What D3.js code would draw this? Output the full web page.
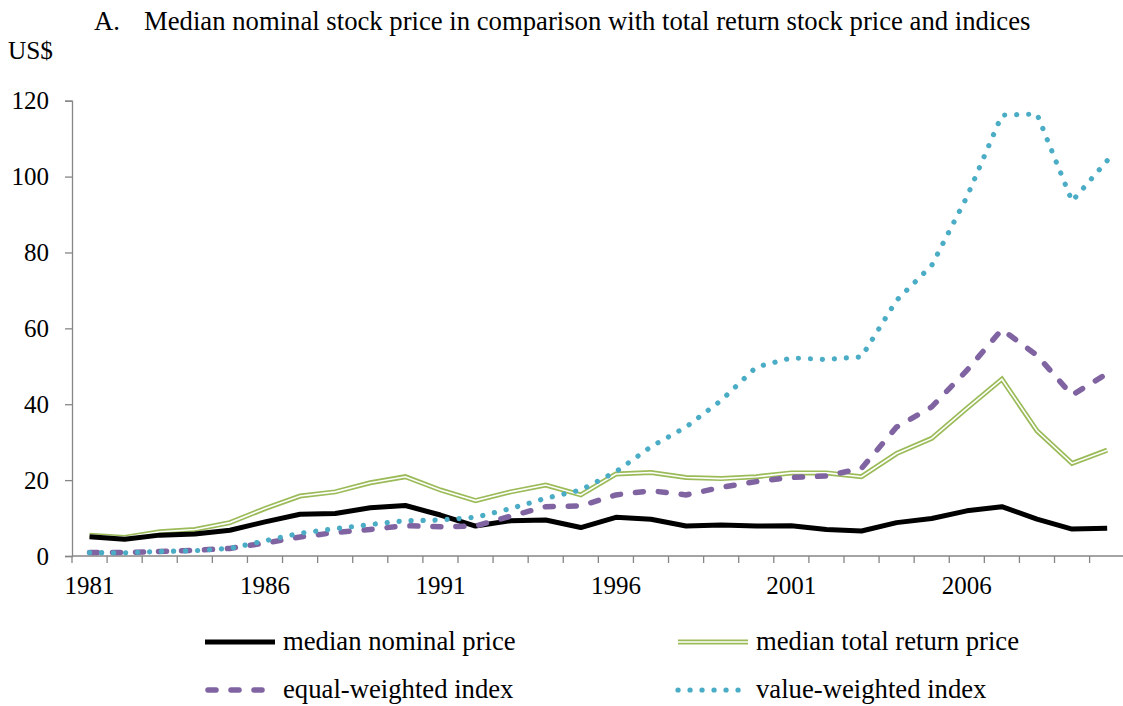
<!DOCTYPE html>
<html>
<head>
<meta charset="utf-8">
<script src="https://cdn.jsdelivr.net/npm/d3@7"></script>
<style>
  body { margin: 0; background: #fff; }
  svg text { font-family: 'Liberation Serif', 'Times New Roman', Times, serif; fill: #000; }
</style>
</head>
<body>
<div id="chart"></div>
<script>
// data
const years = d3.range(1981, 2011);
const medianNominal = [5.1, 4.4, 5.5, 5.8, 6.8, 9.0, 11.0, 11.2, 12.7, 13.3,
  10.8, 7.9, 9.3, 9.5, 7.5, 10.2, 9.7, 7.9, 8.2, 7.9,
  8.0, 7.0, 6.6, 8.8, 9.9, 11.9, 13.0, 9.7, 7.1, 7.3];
const medianTotalReturn = [5.5, 4.9, 6.4, 7.0, 8.8, 12.5, 15.8, 16.9, 19.3, 20.9,
  17.4, 14.6, 16.9, 18.7, 16.1, 21.6, 22.0, 20.7, 20.4, 20.9,
  21.9, 21.9, 20.9, 27.0, 31.0, 38.9, 46.6, 33.0, 24.4, 27.9];
const equalWeighted = [0.9, 0.9, 1.2, 1.5, 2.0, 3.4, 5.0, 6.2, 7.0, 8.0,
  7.7, 7.9, 10.5, 13.0, 13.2, 16.1, 17.2, 16.1, 18.1, 19.6,
  20.7, 21.1, 23.1, 34.0, 39.3, 48.9, 59.7, 52.9, 42.4, 48.1];
const valueWeighted = [0.9, 0.8, 1.2, 1.4, 2.0, 4.0, 6.0, 7.2, 8.3, 9.3,
  9.5, 10.2, 12.5, 15.2, 17.4, 22.2, 28.8, 34.0, 41.0, 49.8,
  52.2, 51.8, 52.5, 67.4, 76.6, 94.6, 116.2, 116.5, 93.5, 104.2];
const yTicks = [0, 20, 40, 60, 80, 100, 120];
const labelYears = [1981, 1986, 1991, 1996, 2001, 2006];

const series = [
  { name: "median nominal price", values: medianNominal, kind: "solid" },
  { name: "median total return price", values: medianTotalReturn, kind: "double" },
  { name: "equal-weighted index", values: equalWeighted, kind: "dash" },
  { name: "value-weighted index", values: valueWeighted, kind: "dot" }
];

const width = 1123;
const height = 706;
const axisColor = "#868686";
const serif = "'Liberation Serif', 'Times New Roman', Times, serif";

const svg = d3.select("#chart").append("svg")
    .attr("width", width)
    .attr("height", height);

const x = d3.scaleBand().domain(years).range([72, 1124.7]).padding(0);
const y = d3.scaleLinear().domain([0, 120]).range([556, 100.7]);
const cx = d => x(d) + x.bandwidth() / 2;

// title
svg.append("text").attr("x", 94).attr("y", 30).attr("font-size", 26.7).text("A.");
svg.append("text").attr("x", 144).attr("y", 30).attr("font-size", 26.7)
    .text("Median nominal stock price in comparison with total return stock price and indices");
svg.append("text").attr("x", 8).attr("y", 59).attr("font-size", 25.3).text("US$");

// y axis
const yAxis = svg.append("g")
    .attr("transform", "translate(72,0)")
    .call(d3.axisLeft(y).tickValues(yTicks).tickSize(7).tickPadding(16));
yAxis.attr("font-family", null).attr("font-size", null);
yAxis.selectAll("text").attr("font-size", 25).attr("fill", "#000");

// x axis: ticks at category boundaries, labels at centres
const xAxis = svg.append("g")
    .attr("transform", "translate(0,556)");
xAxis.append("line")
    .attr("x1", 72).attr("x2", 1124.7)
    .attr("stroke", axisColor).attr("stroke-width", 1.3);
xAxis.selectAll("line.tick")
    .data(years.concat([2011]))
    .join("line")
    .attr("class", "tick")
    .attr("x1", d => d === 2011 ? 1124.7 : x(d))
    .attr("x2", d => d === 2011 ? 1124.7 : x(d))
    .attr("y1", 0).attr("y2", 7)
    .attr("stroke", axisColor).attr("stroke-width", 1.3);
xAxis.selectAll("text")
    .data(labelYears)
    .join("text")
    .attr("x", d => cx(d))
    .attr("y", 38)
    .attr("text-anchor", "middle")
    .attr("font-size", 25)
    .text(d => d);

svg.selectAll(".domain, .tick line").attr("stroke", axisColor).attr("stroke-width", 1.3);
svg.selectAll("text").style("font-family", serif);

const line = d3.line()
    .x((d, i) => cx(years[i]))
    .y(d => y(d));

function drawStyled(g, s, path) {
  if (s.kind === "solid") {
    g.append("path").attr("d", path).attr("fill", "none")
        .attr("stroke", "#000").attr("stroke-width", 5).attr("stroke-linejoin", "round");
  } else if (s.kind === "double") {
    g.append("path").attr("d", path).attr("fill", "none")
        .attr("stroke", "#9BBB59").attr("stroke-width", 5).attr("stroke-linejoin", "miter");
    g.append("path").attr("d", path).attr("fill", "none")
        .attr("stroke", "#fff").attr("stroke-width", 1.6).attr("stroke-linejoin", "miter");
  } else if (s.kind === "dash") {
    g.append("path").attr("d", path).attr("fill", "none")
        .attr("stroke", "#8064A2").attr("stroke-width", 5.5)
        .attr("stroke-dasharray", "8,15").attr("stroke-linecap", "round");
  } else {
    g.append("path").attr("d", path).attr("fill", "none")
        .attr("stroke", "#4BACC6").attr("stroke-width", 5.2)
        .attr("stroke-dasharray", "0.1,11.9").attr("stroke-linecap", "round");
  }
}

// draw order: back to front
const order = [series[1], series[0], series[2], series[3]];
order.forEach(s => {
  drawStyled(svg.append("g"), s, line(s.values));
});

// legend
const legendPos = [
  { x: 205, y: 642 }, { x: 678, y: 642 },
  { x: 205, y: 690 }, { x: 678, y: 690 }
];
series.forEach((s, i) => {
  const p = legendPos[i];
  const g = svg.append("g");
  const x0 = s.kind === "dash" ? p.x + 3 : p.x;
  const len = s.kind === "dash" ? 60 : 70;
  drawStyled(g, s, `M${x0},${p.y}H${x0 + len}`);
  g.append("text").attr("x", p.x + 78).attr("y", p.y + 8)
      .attr("font-size", 26.7).style("font-family", serif).text(s.name);
});
</script>
</body>
</html>
